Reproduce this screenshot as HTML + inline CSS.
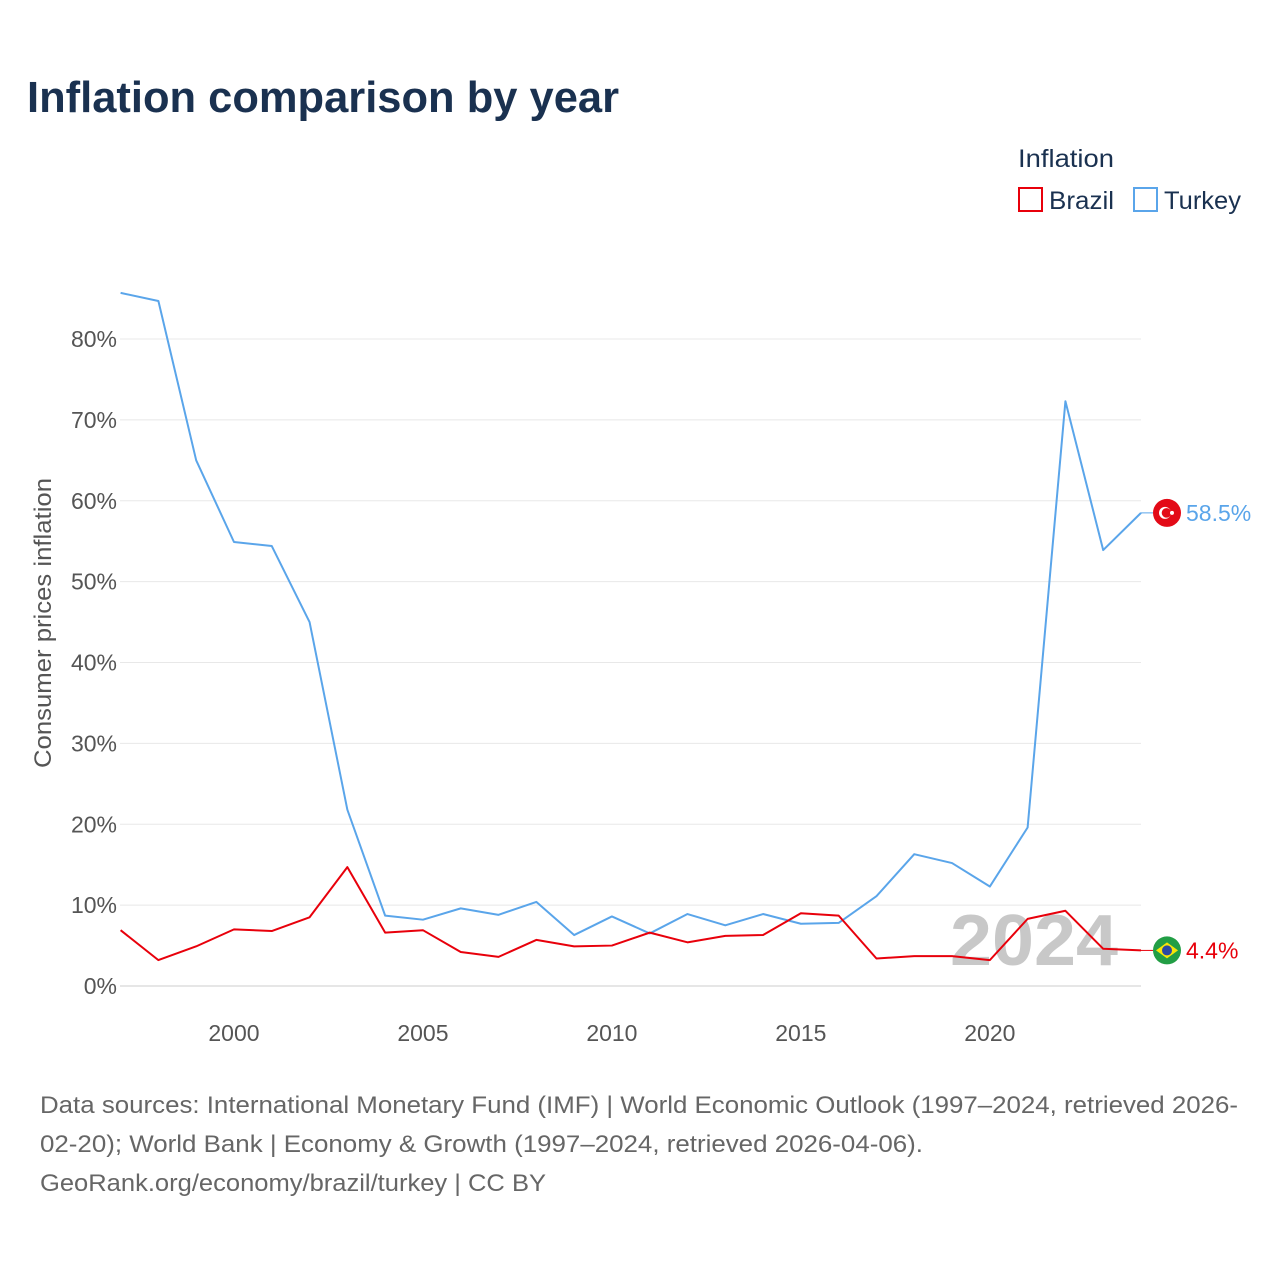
<!DOCTYPE html>
<html><head><meta charset="utf-8"><style>
body{margin:0;background:#fff;font-family:"Liberation Sans",sans-serif}
svg text{font-family:"Liberation Sans",sans-serif}
</style></head><body>
<svg width="1280" height="1280" viewBox="0 0 1280 1280">
<text x="27" y="112" font-size="44" font-weight="bold" fill="#1a3150" textLength="592" lengthAdjust="spacingAndGlyphs">Inflation comparison by year</text>
<text x="1018" y="167" font-size="25" fill="#1a3150" textLength="96" lengthAdjust="spacingAndGlyphs">Inflation</text>
<g><rect x="1019" y="188" width="23" height="23" fill="none" stroke="#e8000b" stroke-width="2"/><text x="1049" y="209" font-size="25" fill="#1a3150" textLength="65" lengthAdjust="spacingAndGlyphs">Brazil</text></g>
<g><rect x="1134" y="188" width="23" height="23" fill="none" stroke="#5aa5ea" stroke-width="2"/><text x="1164" y="209" font-size="25" fill="#1a3150" textLength="77" lengthAdjust="spacingAndGlyphs">Turkey</text></g>
<g id="grid"></g><g id="yticks"></g><g id="xticks"></g>
<text x="1034" y="965" font-size="72" font-weight="bold" fill="#c8c8c8" text-anchor="middle" textLength="168" lengthAdjust="spacingAndGlyphs">2024</text>
<text transform="translate(51,623) rotate(-90)" font-size="24" fill="#555" text-anchor="middle" textLength="290" lengthAdjust="spacingAndGlyphs">Consumer prices inflation</text>
<g id="series"></g>
<text x="40" y="1113" font-size="24" fill="#666" textLength="1198" lengthAdjust="spacingAndGlyphs">Data sources: International Monetary Fund (IMF) | World Economic Outlook (1997–2024, retrieved 2026-</text>
<text x="40" y="1152" font-size="24" fill="#666" textLength="883" lengthAdjust="spacingAndGlyphs">02-20); World Bank | Economy &amp; Growth (1997–2024, retrieved 2026-04-06).</text>
<text x="40" y="1191" font-size="24" fill="#666" textLength="506" lengthAdjust="spacingAndGlyphs">GeoRank.org/economy/brazil/turkey | CC BY</text>
</svg>
<script>
const years=[1997,1998,1999,2000,2001,2002,2003,2004,2005,2006,2007,2008,2009,2010,2011,2012,2013,2014,2015,2016,2017,2018,2019,2020,2021,2022,2023,2024];
const turkey=[85.7,84.7,65.0,54.9,54.4,45.0,21.8,8.7,8.2,9.6,8.8,10.4,6.3,8.6,6.5,8.9,7.5,8.9,7.7,7.8,11.1,16.3,15.2,12.3,19.6,72.3,53.9,58.5];
const brazil=[6.9,3.2,4.9,7.0,6.8,8.5,14.7,6.6,6.9,4.2,3.6,5.7,4.9,5.0,6.6,5.4,6.2,6.3,9.0,8.7,3.4,3.7,3.7,3.2,8.3,9.3,4.6,4.4];
const yTicks=[0,10,20,30,40,50,60,70,80];
const xTicks=[2000,2005,2010,2015,2020];
const NS="http://www.w3.org/2000/svg";
const x=v=>120.6+(v-1997)*(1141-120.6)/27;
const y=v=>986-v*8.0875;
function mk(tag,attrs,parent,txt){const e=document.createElementNS(NS,tag);for(const k in attrs)e.setAttribute(k,attrs[k]);if(txt!==undefined)e.textContent=txt;document.getElementById(parent).appendChild(e);return e;}
yTicks.forEach(t=>{
 const l=mk('line',{x1:120,x2:1141,y1:y(t),y2:y(t),stroke:t===0?'#ccc':'#e8e8e8','stroke-width':1},'grid');
 
 
 const tx=mk('text',{x:117,y:y(t)+8,'font-size':23,fill:'#555','text-anchor':'end'},'yticks',t+'%');
 
 
});
xTicks.forEach(t=>{
 const tx=mk('text',{x:x(t),y:1041,'font-size':23,fill:'#555','text-anchor':'middle'},'xticks',t);
 
 
});
function series(vals,color,name,label,flag){
 const p=mk('polyline',{points:vals.map((v,i)=>x(years[i])+','+y(v)).join(' '),fill:'none',stroke:color,'stroke-width':2,'stroke-linejoin':'round'},'series');
 
 
 const last=vals[vals.length-1],ly=y(last);
 const c=mk('line',{x1:1141,x2:1153,y1:ly,y2:ly,stroke:color,'stroke-width':1},'series');
 
 
 const g=mk('g',{},'series');
 
 
 flag(g,1167,ly);
 const t=mk('text',{x:1186,y:ly+8,'font-size':23,fill:color},'series',label);
 
 
}
function add(g,tag,a){const e=document.createElementNS(NS,tag);for(const k in a)e.setAttribute(k,a[k]);g.appendChild(e);}
series(turkey,'#5aa5ea','turkey',turkey[turkey.length-1]+'%',(g,cx,cy)=>{
 add(g,'circle',{cx,cy,r:14,fill:'#e30a17'});
 add(g,'circle',{cx:cx-2,cy,r:6,fill:'#fff'});
 add(g,'circle',{cx:cx-0.5,cy,r:4.8,fill:'#e30a17'});
 add(g,'circle',{cx:cx+5,cy,r:2,fill:'#fff'});
});
series(brazil,'#e8000b','brazil',brazil[brazil.length-1]+'%',(g,cx,cy)=>{
 add(g,'circle',{cx,cy,r:14,fill:'#229e45'});
 add(g,'polygon',{points:`${cx-11},${cy} ${cx},${cy-8} ${cx+11},${cy} ${cx},${cy+8}`,fill:'#f8e509'});
 add(g,'circle',{cx,cy,r:5,fill:'#2b49a3'});
});
</script>
</body></html>
